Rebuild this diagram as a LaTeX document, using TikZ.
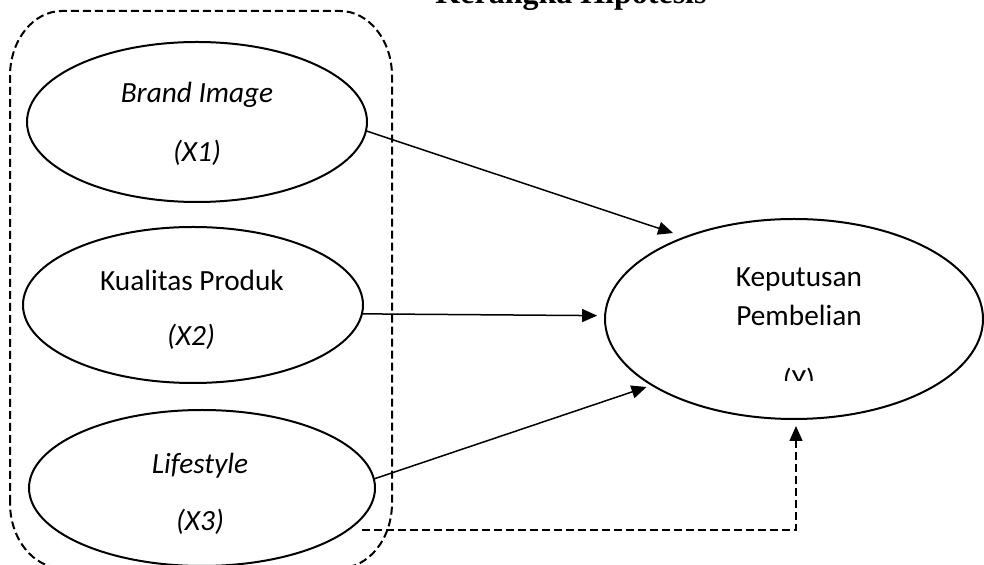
\documentclass[tikz,border=0pt]{standalone}
\usepackage{fontspec}
\setmainfont{Carlito}
\newfontfamily\titlefont{Liberation Serif}
\usetikzlibrary{shapes.geometric,arrows.meta}
\begin{document}
\begin{tikzpicture}[x=0.5pt,y=-0.5pt,
  var/.style={ellipse,draw,line width=1pt,inner sep=0pt,outer sep=0pt},
  lbl/.style={anchor=base,inner sep=0pt,font=\fontsize{14.65}{17}\selectfont},
  ilbl/.style={anchor=base,inner sep=0pt,font=\fontsize{14.65}{17}\selectfont\itshape},
  link/.style={line width=0.75pt,-{Triangle[length=7.5pt,width=6.5pt]}},
  dlink/.style={link,dash pattern=on 4pt off 2pt},
  groupbox/.style={line width=1pt,dash pattern=on 4pt off 2pt}]
\useasboundingbox (0,0) rectangle (984,565);

% title (cut at top)
\node[anchor=base,inner sep=0pt,font=\titlefont\bfseries\fontsize{16}{19}\selectfont] (title) at (571,4) {Kerangka Hipotesis};

% dashed group box
\draw[groupbox] (10,503) -- (10,76)
  arc[start angle=180,end angle=270,x radius=52,y radius=65] -- (340,11)
  arc[start angle=270,end angle=360,x radius=52,y radius=65] -- (392,503)
  arc[start angle=0,end angle=90,x radius=52,y radius=65] -- (62,568)
  arc[start angle=90,end angle=180,x radius=52,y radius=65] -- cycle;

% ellipses
\node[var,minimum width=170pt,minimum height=80pt] (x1) at (197,122) {};
\node[var,minimum width=170pt,minimum height=78pt] (x2) at (193,305) {};
\node[var,minimum width=173pt,minimum height=78pt] (x3) at (202,488) {};
\node[var,minimum width=189pt,minimum height=100pt] (y) at (794,319) {};

% labels
\node[ilbl] (x1a) at (197,103) {Brand Image};
\node[ilbl] (x1b) at (197,162) {(X1)};
\node[lbl] (x2a) at (192,291) {Kualitas Produk};
\node[ilbl] (x2b) at (191,346) {(X2)};
\node[ilbl] (x3a) at (200,474) {Lifestyle};
\node[ilbl] (x3b) at (200,531) {(X3)};
\node[lbl] (ya) at (799,287) {Keputusan};
\node[lbl] (yb) at (799,326) {Pembelian};
\begin{scope}
  \clip (700,300) rectangle (900,381);
  \node[lbl] (yc) at (799,390) {(Y)};
\end{scope}

% connectors
\draw[link,shorten >=6.5pt] (x1.-3) -- (y.143);
\draw[link,shorten >=4pt] (x2.-3) -- (y.179);
\draw[link,shorten >=3pt] (x3.3) -- (y.205);
\draw[dlink,shorten >=3.5pt] ([xshift=7pt]x3.-16) -| ([xshift=1pt]y.south);
\end{tikzpicture}
\end{document}
